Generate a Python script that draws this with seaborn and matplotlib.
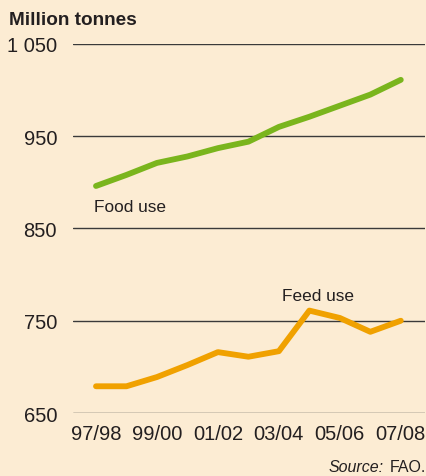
import matplotlib
matplotlib.use("Agg")
import matplotlib.pyplot as plt
import seaborn as sns
import pandas as pd

# marketing years, one point per year
seasons = ["97/98", "98/99", "99/00", "00/01", "01/02", "02/03",
           "03/04", "04/05", "05/06", "06/07", "07/08"]
food_use = [896, 908, 921, 928, 937, 944, 960, 971, 983, 995, 1011]
feed_use = [679, 679, 689, 702, 716, 711, 717, 761, 753, 738, 750]
ytick_vals = [650, 750, 850, 950, 1050]
ytick_labels = ["650", "750", "850", "950", "1 050"]

bg = "#FCECD3"
green = "#7AB51D"
orange = "#F0A100"
ink = "#231F20"

df = pd.DataFrame({
    "idx": list(range(len(seasons))) * 2,
    "value": food_use + feed_use,
    "series": ["Food use"] * len(seasons) + ["Feed use"] * len(seasons),
})

sns.set_style("white")
plt.rcParams["font.family"] = ["Liberation Sans", "DejaVu Sans"]

fig = plt.figure(figsize=(4.27, 4.77), dpi=100, facecolor=bg)
ax = fig.add_axes([0.171, 0.132, 0.824, 0.774])
ax.set_facecolor(bg)

for y in ytick_vals:
    ax.axhline(y, color="#3a3a3a", lw=1.0, zorder=1)

sns.lineplot(data=df, x="idx", y="value", hue="series",
             palette={"Food use": green, "Feed use": orange},
             lw=4.2, legend=False, ax=ax, zorder=3)
for line in ax.get_lines():
    line.set_solid_capstyle("round")
    line.set_solid_joinstyle("round")

ax.set_xlim(-0.754, 10.79)
ax.set_ylim(650, 1050)
ax.set_yticks(ytick_vals)
ax.set_yticklabels(ytick_labels)
ax.set_xticks(range(len(seasons)))
ax.set_xticklabels([s if i % 2 == 0 else "" for i, s in enumerate(seasons)])
ax.tick_params(axis="x", direction="in", length=7, width=1, color="#3a3a3a",
               labelsize=14.5, labelcolor=ink, pad=8)
ax.tick_params(axis="y", length=0, labelsize=14.5, labelcolor=ink, pad=11.5)
for s in ax.spines.values():
    s.set_visible(False)
ax.set_xlabel("")
ax.set_ylabel("")

ax.text(-0.08, 874, "Food use", fontsize=12.4, color=ink, ha="left", va="center")
ax.text(6.1, 777, "Feed use", fontsize=12.4, color=ink, ha="left", va="center")

fig.text(0.021, 0.958, "Million tonnes", fontsize=13.7, fontweight="bold",
         color=ink, ha="left", va="center")
fig.text(0.998, 0.02, "FAO.", fontsize=11.5, color=ink, ha="right", va="center")
fig.text(0.899, 0.02, "Source:", fontsize=11.5, style="italic", color=ink,
         ha="right", va="center")

fig.savefig("out.png", dpi=100, facecolor=bg)
